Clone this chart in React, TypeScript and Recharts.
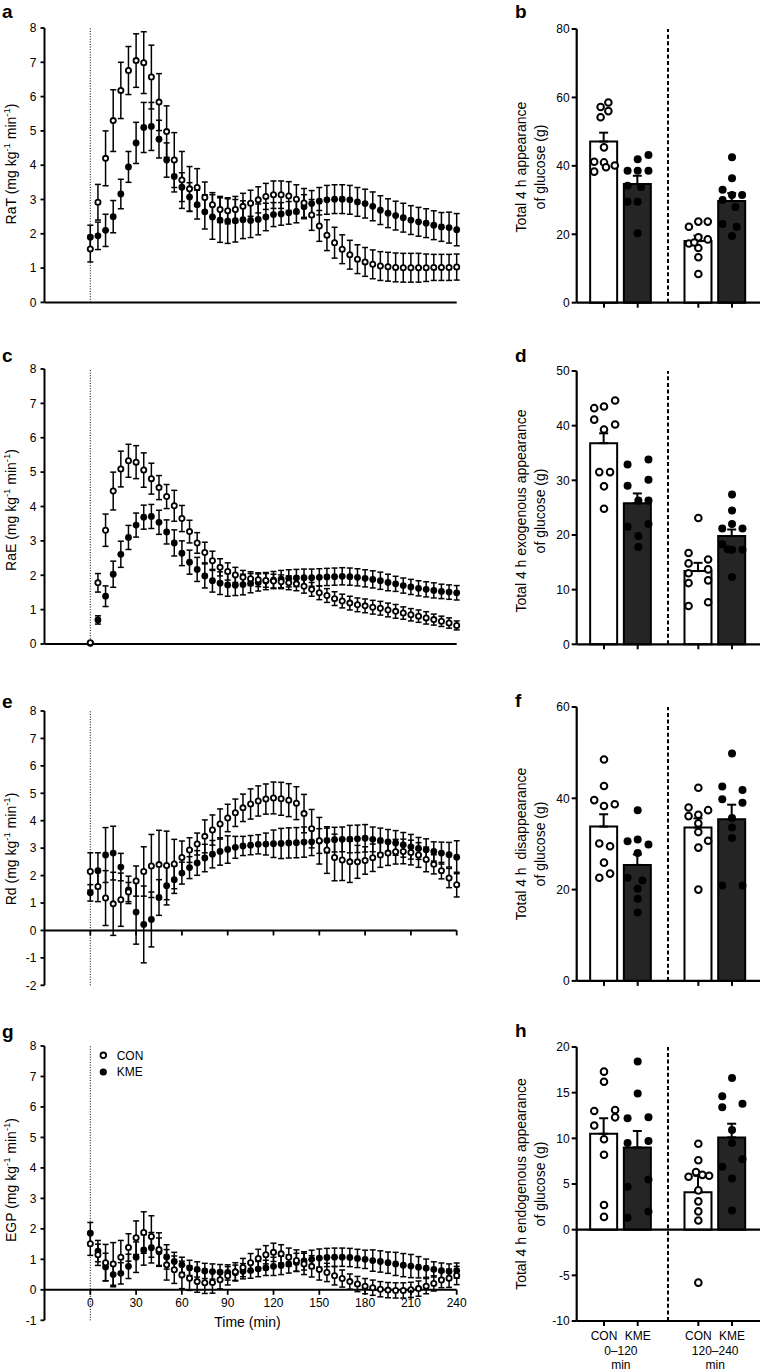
import React from 'react';
import {
  ScatterChart,
  ComposedChart,
  Scatter,
  Bar,
  Cell,
  XAxis,
  YAxis,
  ErrorBar,
  ReferenceLine,
  Legend,
} from 'recharts';

const FONT = '"Liberation Sans", Arial, Helvetica, sans-serif';

// ---------- time-course data (mean, SEM) ----------
const TIME = [0, 5, 10, 15, 20, 25, 30, 35, 40, 45, 50, 55, 60, 65, 70, 75, 80, 85, 90, 95, 100, 105, 110, 115, 120, 125, 130, 135, 140, 145, 150, 155, 160, 165, 170, 175, 180, 185, 190, 195, 200, 205, 210, 215, 220, 225, 230, 235, 240];
const TIME_TICKS = [0, 30, 60, 90, 120, 150, 180, 210, 240];

const RAT_CON = [1.56, 2.92, 4.2, 5.3, 6.18, 6.76, 7.05, 6.99, 6.57, 5.84, 4.98, 4.15, 3.57, 3.31, 3.35, 3.06, 2.85, 2.71, 2.67, 2.71, 2.8, 2.89, 2.99, 3.09, 3.14, 3.14, 3.1, 3.01, 2.9, 2.55, 2.23, 1.96, 1.74, 1.55, 1.39, 1.26, 1.18, 1.11, 1.06, 1.04, 1.02, 1.01, 1.01, 1.01, 1.01, 1.02, 1.02, 1.02, 1.03];
const RAT_CON_SEM = [0.38, 0.52, 0.8, 0.9, 0.82, 0.7, 0.78, 0.9, 0.93, 0.83, 0.75, 0.8, 0.83, 0.65, 0.55, 0.45, 0.35, 0.38, 0.38, 0.38, 0.38, 0.38, 0.38, 0.38, 0.4, 0.4, 0.42, 0.42, 0.42, 0.45, 0.45, 0.45, 0.45, 0.42, 0.42, 0.42, 0.42, 0.42, 0.42, 0.42, 0.42, 0.42, 0.42, 0.42, 0.4, 0.38, 0.38, 0.38, 0.38];
const RAT_KME = [1.9, 1.94, 2.1, 2.5, 3.16, 3.95, 4.65, 5.1, 5.13, 4.76, 4.15, 3.67, 3.36, 3.07, 2.85, 2.64, 2.49, 2.4, 2.37, 2.38, 2.41, 2.39, 2.42, 2.49, 2.56, 2.58, 2.61, 2.65, 2.79, 2.88, 2.95, 2.99, 3.01, 3.01, 2.99, 2.93, 2.88, 2.8, 2.69, 2.6, 2.53, 2.47, 2.4, 2.35, 2.31, 2.25, 2.2, 2.18, 2.12];
const RAT_KME_SEM = [0.35, 0.4, 0.47, 0.47, 0.43, 0.45, 0.6, 0.73, 0.7, 0.55, 0.5, 0.45, 0.42, 0.42, 0.42, 0.5, 0.65, 0.65, 0.65, 0.62, 0.55, 0.5, 0.45, 0.4, 0.35, 0.33, 0.33, 0.33, 0.35, 0.38, 0.4, 0.42, 0.42, 0.42, 0.42, 0.42, 0.42, 0.42, 0.42, 0.42, 0.42, 0.42, 0.42, 0.42, 0.42, 0.42, 0.42, 0.45, 0.47];

const RAE_CON = [0.04, 1.78, 3.31, 4.45, 5.09, 5.33, 5.29, 5.06, 4.81, 4.55, 4.29, 4.02, 3.65, 3.27, 2.94, 2.66, 2.42, 2.23, 2.11, 2.01, 1.94, 1.9, 1.87, 1.85, 1.83, 1.81, 1.78, 1.75, 1.68, 1.59, 1.49, 1.41, 1.32, 1.25, 1.19, 1.14, 1.11, 1.07, 1.04, 0.99, 0.95, 0.9, 0.85, 0.81, 0.76, 0.71, 0.66, 0.61, 0.54];
const RAE_CON_SEM = [0.02, 0.27, 0.47, 0.55, 0.52, 0.48, 0.48, 0.5, 0.45, 0.35, 0.35, 0.45, 0.38, 0.33, 0.3, 0.3, 0.28, 0.25, 0.25, 0.22, 0.2, 0.2, 0.2, 0.2, 0.2, 0.2, 0.2, 0.2, 0.2, 0.2, 0.2, 0.2, 0.2, 0.2, 0.2, 0.2, 0.2, 0.2, 0.2, 0.2, 0.2, 0.18, 0.18, 0.18, 0.18, 0.16, 0.15, 0.15, 0.13];
const RAE_KME = [0.02, 0.7, 1.39, 2.03, 2.61, 3.1, 3.46, 3.69, 3.71, 3.54, 3.26, 2.94, 2.64, 2.38, 2.17, 1.98, 1.84, 1.77, 1.72, 1.71, 1.73, 1.77, 1.79, 1.83, 1.86, 1.89, 1.91, 1.92, 1.93, 1.93, 1.94, 1.95, 1.96, 1.97, 1.96, 1.94, 1.91, 1.88, 1.84, 1.79, 1.75, 1.7, 1.66, 1.62, 1.59, 1.56, 1.53, 1.51, 1.49];
const RAE_KME_SEM = [0.02, 0.12, 0.3, 0.38, 0.38, 0.35, 0.35, 0.35, 0.35, 0.35, 0.35, 0.38, 0.36, 0.35, 0.35, 0.35, 0.33, 0.33, 0.33, 0.3, 0.3, 0.28, 0.25, 0.25, 0.25, 0.25, 0.25, 0.25, 0.25, 0.25, 0.25, 0.25, 0.25, 0.25, 0.25, 0.25, 0.25, 0.25, 0.25, 0.24, 0.22, 0.22, 0.22, 0.22, 0.22, 0.22, 0.21, 0.21, 0.21];

const RD_CON = [2.15, 1.6, 1.18, 0.97, 1.12, 1.4, 1.8, 2.15, 2.35, 2.4, 2.37, 2.42, 2.66, 2.93, 3.15, 3.43, 3.66, 3.88, 4.1, 4.29, 4.47, 4.61, 4.72, 4.79, 4.83, 4.8, 4.75, 4.64, 4.26, 3.71, 3.27, 2.93, 2.66, 2.57, 2.5, 2.5, 2.55, 2.65, 2.75, 2.82, 2.87, 2.88, 2.84, 2.75, 2.59, 2.41, 2.18, 1.91, 1.67];
const RD_CON_SEM = [0.68, 0.55, 1.0, 1.15, 0.97, 0.35, 0.55, 0.9, 1.15, 1.25, 1.25, 0.9, 0.6, 0.45, 0.4, 0.6, 0.55, 0.55, 0.5, 0.5, 0.5, 0.55, 0.55, 0.55, 0.58, 0.6, 0.6, 0.6, 0.7, 0.7, 0.85, 0.85, 0.85, 0.75, 0.75, 0.6, 0.5, 0.5, 0.45, 0.45, 0.45, 0.45, 0.45, 0.45, 0.45, 0.35, 0.3, 0.35, 0.45];
const RD_KME = [1.37, 2.18, 2.75, 2.82, 2.31, 1.48, 0.67, 0.22, 0.4, 1.2, 1.63, 1.85, 2.09, 2.29, 2.46, 2.64, 2.78, 2.88, 2.95, 3.03, 3.08, 3.11, 3.14, 3.15, 3.16, 3.17, 3.19, 3.2, 3.22, 3.23, 3.26, 3.28, 3.31, 3.32, 3.33, 3.34, 3.36, 3.32, 3.28, 3.23, 3.19, 3.12, 3.05, 2.99, 2.94, 2.88, 2.82, 2.76, 2.67];
const RD_KME_SEM = [0.3, 0.65, 1.0, 0.98, 0.5, 0.5, 1.17, 1.4, 1.0, 0.65, 0.7, 0.5, 0.4, 0.4, 0.45, 0.5, 0.5, 0.5, 0.5, 0.4, 0.35, 0.35, 0.35, 0.4, 0.5, 0.55, 0.55, 0.55, 0.55, 0.5, 0.45, 0.45, 0.45, 0.45, 0.5, 0.5, 0.5, 0.45, 0.45, 0.45, 0.45, 0.45, 0.45, 0.4, 0.4, 0.35, 0.4, 0.45, 0.6];

const EGP_CON = [1.51, 1.15, 0.89, 0.85, 1.07, 1.39, 1.71, 1.88, 1.75, 1.32, 0.82, 0.66, 0.49, 0.38, 0.27, 0.23, 0.24, 0.33, 0.46, 0.59, 0.73, 0.89, 1.03, 1.15, 1.23, 1.18, 1.07, 0.96, 0.85, 0.77, 0.67, 0.57, 0.46, 0.37, 0.27, 0.19, 0.12, 0.07, 0.02, -0.01, -0.02, -0.02, 0.0, 0.04, 0.12, 0.21, 0.32, 0.38, 0.47];
const EGP_CON_SEM = [0.38, 0.35, 0.6, 0.7, 0.55, 0.45, 0.55, 0.68, 0.68, 0.55, 0.5, 0.45, 0.45, 0.4, 0.35, 0.35, 0.35, 0.3, 0.3, 0.3, 0.3, 0.3, 0.3, 0.3, 0.3, 0.3, 0.3, 0.35, 0.35, 0.35, 0.35, 0.3, 0.3, 0.28, 0.25, 0.25, 0.25, 0.25, 0.25, 0.25, 0.25, 0.25, 0.25, 0.25, 0.25, 0.25, 0.25, 0.3, 0.3];
const EGP_KME = [1.86, 1.27, 0.75, 0.5, 0.54, 0.77, 1.07, 1.31, 1.38, 1.25, 1.08, 0.93, 0.82, 0.72, 0.67, 0.62, 0.6, 0.58, 0.57, 0.56, 0.61, 0.63, 0.68, 0.72, 0.77, 0.8, 0.85, 0.9, 0.95, 1.0, 1.04, 1.06, 1.07, 1.07, 1.06, 1.03, 1.0, 0.96, 0.93, 0.89, 0.85, 0.81, 0.78, 0.74, 0.71, 0.67, 0.63, 0.6, 0.63];
const EGP_KME_SEM = [0.35, 0.35, 0.45, 0.4, 0.35, 0.4, 0.5, 0.5, 0.5, 0.45, 0.4, 0.3, 0.25, 0.25, 0.25, 0.25, 0.25, 0.25, 0.25, 0.25, 0.25, 0.25, 0.25, 0.25, 0.3, 0.3, 0.3, 0.3, 0.3, 0.3, 0.3, 0.3, 0.3, 0.3, 0.3, 0.3, 0.3, 0.35, 0.35, 0.35, 0.38, 0.38, 0.38, 0.35, 0.3, 0.25, 0.25, 0.25, 0.25];

const Y_TICKS_0_8 = [0, 1, 2, 3, 4, 5, 6, 7, 8];
const Y_TICKS_M2_8 = [-2, -1, 0, 1, 2, 3, 4, 5, 6, 7, 8];
const Y_TICKS_M1_8 = [-1, 0, 1, 2, 3, 4, 5, 6, 7, 8];

// ---------- bar panels ----------
const BAR_SLOTS = [1, 2, 3.8, 4.8];
const BAR_DOMAIN: [number, number] = [0.19, 5.63];
const SPLIT_AT = 2.9;
const CAT_LABELS = ['CON', 'KME', 'CON', 'KME'];
const GROUP_SLOTS = [1.5, 4.3];
const GROUP_LABELS = ['0\u2013120', '120\u2013240'];
const GROUP_UNIT = 'min';

// b: total appearance
const APP_MEAN = [47.1, 34.7, 18.0, 29.7];
const APP_SEM = [2.6, 2.4, 1.6, 2.3];
const APP_CON_1 = [[0.13, 58.5], [-0.1, 57.2], [0.13, 56.0], [-0.1, 54.2], [0.0, 45.4], [-0.29, 41.2], [0.0, 41.0], [0.32, 40.1], [-0.29, 38.3], [0.06, 39.6]];
const APP_KME_1 = [[0.32, 43.2], [0.0, 41.9], [-0.3, 38.6], [0.0, 38.6], [0.32, 38.6], [-0.3, 34.2], [0.1, 33.8], [-0.3, 29.5], [0.0, 29.5], [0.0, 20.3]];
const APP_CON_2 = [[0.0, 23.7], [0.28, 23.7], [-0.28, 22.2], [0.0, 19.1], [0.28, 18.5], [-0.28, 17.3], [-0.12, 17.6], [0.0, 16.0], [0.0, 13.3], [0.0, 8.4]];
const APP_KME_2 = [[0.0, 42.5], [0.0, 36.4], [-0.28, 33.0], [0.3, 31.5], [0.0, 31.5], [-0.28, 30.0], [0.1, 28.0], [-0.28, 23.0], [0.14, 22.2], [0.0, 19.5]];
const APP_TICKS = [0, 20, 40, 60, 80];

// d: exogenous appearance
const EXO_MEAN = [36.8, 25.8, 13.4, 19.8];
const EXO_SEM = [1.8, 1.8, 1.5, 1.2];
const EXO_CON_1 = [[-0.29, 43.2], [0.0, 43.5], [0.33, 44.6], [-0.29, 41.1], [0.0, 39.3], [0.33, 40.2], [-0.14, 31.5], [0.18, 31.5], [0.0, 28.9], [0.0, 24.8]];
const EXO_KME_1 = [[-0.3, 32.9], [0.32, 33.8], [0.32, 30.1], [-0.3, 29.0], [0.02, 26.3], [0.32, 26.3], [-0.3, 21.5], [0.32, 22.0], [0.02, 19.8], [0.02, 17.8]];
const EXO_CON_2 = [[0.0, 23.1], [-0.29, 16.7], [-0.29, 14.8], [0.29, 15.5], [-0.29, 13.0], [0.29, 13.7], [-0.29, 11.2], [0.29, 11.7], [-0.29, 7.0], [0.29, 7.7]];
const EXO_KME_2 = [[0.0, 27.4], [0.0, 24.5], [-0.29, 21.2], [0.0, 22.0], [0.31, 21.2], [-0.29, 18.3], [0.0, 17.3], [0.31, 17.3], [-0.13, 17.4], [0.0, 12.3]];
const EXO_TICKS = [0, 10, 20, 30, 40, 50];

// f: disappearance
const DIS_MEAN = [33.8, 25.4, 33.6, 35.4];
const DIS_SEM = [2.7, 2.3, 2.0, 3.2];
const DIS_CON_1 = [[0.0, 48.5], [0.0, 42.7], [-0.29, 39.6], [0.0, 38.3], [0.32, 38.7], [-0.14, 30.1], [0.18, 29.5], [0.0, 25.9], [-0.14, 22.6], [0.18, 23.5]];
const DIS_KME_1 = [[0.0, 37.4], [-0.3, 30.6], [0.0, 31.0], [0.32, 29.9], [0.0, 28.0], [-0.3, 22.6], [0.14, 22.0], [0.0, 20.2], [0.0, 18.0], [0.0, 15.0]];
const DIS_CON_2 = [[0.0, 42.3], [-0.29, 38.0], [0.0, 36.4], [0.29, 37.4], [-0.29, 36.1], [0.0, 34.5], [0.0, 32.6], [0.29, 30.7], [0.0, 29.2], [0.0, 20.0]];
const DIS_KME_2 = [[0.0, 49.8], [-0.29, 42.6], [0.31, 41.8], [-0.29, 39.8], [0.31, 39.0], [0.0, 35.7], [0.0, 33.6], [0.0, 31.3], [-0.29, 20.9], [0.31, 20.9]];
const DIS_TICKS = [0, 20, 40, 60];

// h: endogenous appearance
const END_MEAN = [10.5, 9.0, 4.1, 10.1];
const END_SEM = [1.7, 1.8, 1.8, 1.5];
const END_CON_1 = [[0.0, 17.3], [0.0, 16.2], [-0.29, 13.0], [0.33, 13.1], [-0.29, 11.4], [0.33, 12.3], [0.0, 9.9], [0.0, 8.2], [0.0, 2.7], [0.0, 1.4]];
const END_KME_1 = [[0.0, 18.4], [0.0, 14.9], [-0.3, 12.2], [0.32, 12.3], [-0.3, 9.5], [0.32, 9.7], [-0.3, 4.7], [0.32, 5.5], [-0.3, 1.3], [0.32, 2.0]];
const END_CON_2 = [[0.0, 9.4], [0.0, 7.6], [-0.29, 5.8], [-0.07, 6.3], [0.12, 6.0], [0.32, 5.9], [0.0, 4.3], [0.0, 3.1], [0.0, 2.0], [0.0, 1.0], [0.0, -5.8]];
const END_KME_2 = [[0.0, 16.6], [-0.29, 14.6], [-0.29, 13.4], [0.31, 13.8], [0.0, 10.9], [0.0, 9.5], [-0.29, 6.9], [0.31, 7.7], [0.0, 5.6], [0.0, 2.1]];
const END_TICKS = [-10, -5, 0, 5, 10, 15, 20];

// ---------- shapes ----------
const openDot = (r: number, sw: number) => (p: any) =>
  <circle cx={p.cx} cy={p.cy} r={r} fill="#fff" stroke="#000" strokeWidth={sw} />;
const filledDot = (r: number) => (p: any) =>
  <circle cx={p.cx} cy={p.cy} r={r} fill="#000" stroke="none" />;

// ---------- left time-course panel ----------
const L_PLOT_LEFT = 44.5;
const L_PLOT_RIGHT = 456.7;
const L_WIDTH = 470;
const M_TOP = 10;

const ZeroTick = (props: any) => {
  const { x, y, payload, shift, showLabel } = props;
  const y0 = y - shift;
  return (
    <g>
      <line x1={x} x2={x} y1={y0} y2={y0 + 5} stroke="#000" strokeWidth={1.8} />
      {showLabel && (
        <text x={x} y={y0 + 17} textAnchor="middle" fontSize={12} fontFamily={FONT} fill="#000">
          {payload.value}
        </text>
      )}
    </g>
  );
};

const LegendBox = (props: any) => {
  const order = ['CON', 'KME'];
  const items = [...(props.payload || [])].sort(
    (a: any, b: any) => order.indexOf(a.value) - order.indexOf(b.value)
  );
  return (
    <svg width={70} height={40} style={{ display: 'block' }}>
      {items.map((it: any, i: number) => (
        <g key={it.value}>
          {it.value === 'CON' ? (
            <circle cx={10.3} cy={10.3 + i * 16.7} r={2.8} fill="#fff" stroke="#000" strokeWidth={1.8} />
          ) : (
            <circle cx={10.3} cy={10.3 + i * 16.7} r={3.6} fill="#000" />
          )}
          <text x={23.7} y={10.3 + i * 16.7} dy="0.36em" fontSize={12} fontFamily={FONT} fill="#000">
            {it.value}
          </text>
        </g>
      ))}
    </svg>
  );
};

function TimePanel(props: {
  top: number; bottom: number; domain: [number, number]; ticks: number[];
  con: number[]; conSem: number[]; kme: number[]; kmeSem: number[];
  zeroAxis?: boolean; showLabels?: boolean; legend?: boolean;
}) {
  const { top, bottom, domain, ticks, con, conSem, kme, kmeSem, zeroAxis, showLabels, legend } = props;
  const plotH = bottom - top;
  const xH = 30;
  const height = M_TOP + plotH + xH;
  const shift = (plotH * (0 - domain[0])) / (domain[1] - domain[0]);
  const conData = TIME.map((t, i) => ({ t, v: con[i], e: conSem[i] }));
  const kmeData = TIME.map((t, i) => ({ t, v: kme[i], e: kmeSem[i] }));
  return (
    <div style={{ position: 'absolute', left: 0, top: top - M_TOP }}>
      <ScatterChart
        width={L_WIDTH}
        height={height}
        margin={{ top: M_TOP, right: L_WIDTH - L_PLOT_RIGHT, bottom: 0, left: 0 }}
      >
        {zeroAxis ? (
          <XAxis
            type="number" dataKey="t" domain={[-30, 240]} ticks={TIME_TICKS} interval={0}
            height={xH} axisLine={false} tickLine={false} tickSize={0} tickMargin={0}
            tick={(p: any) => <ZeroTick {...p} shift={shift} showLabel={showLabels} />}
          />
        ) : (
          <XAxis
            type="number" dataKey="t" domain={[-30, 240]} ticks={TIME_TICKS} interval={0}
            height={xH} axisLine={{ stroke: '#000', strokeWidth: 2 }}
            tickLine={{ stroke: '#000', strokeWidth: 1.8 }} tickSize={5} tick={false}
          />
        )}
        <YAxis
          type="number" dataKey="v" domain={domain} ticks={ticks} interval={0} width={L_PLOT_LEFT}
          axisLine={{ stroke: '#000', strokeWidth: 2 }} tickLine={{ stroke: '#000', strokeWidth: 1.8 }}
          tickSize={4} tickMargin={4}
          tick={{ fontSize: 12, fill: '#000', fontFamily: FONT }}
        />
        <ReferenceLine x={0} stroke="#000" strokeWidth={1} strokeDasharray="1 1.6" />
        {zeroAxis && <ReferenceLine y={0} stroke="#000" strokeWidth={2} />}
        {legend && (
          <Legend
            layout="vertical" align="center" verticalAlign="middle"
            wrapperStyle={{ left: 93, top: 9, width: 70, height: 40 }}
            content={(p: any) => <LegendBox {...p} />}
          />
        )}
        <Scatter name="KME" data={kmeData} shape={filledDot(3.4)} isAnimationActive={false}>
          <ErrorBar dataKey="e" direction="y" width={3} stroke="#000" strokeWidth={1.5} />
        </Scatter>
        <Scatter name="CON" data={conData} shape={openDot(2.6, 1.8)} isAnimationActive={false}>
          <ErrorBar dataKey="e" direction="y" width={3} stroke="#000" strokeWidth={1.5} />
        </Scatter>
      </ScatterChart>
    </div>
  );
}

// ---------- right bar panel ----------
const B_LEFT = 480;
const B_WIDTH = 281;
const B_YW = 96.7;
const B_RIGHT_M = 1;
const B_PX_PER_UNIT = (B_WIDTH - B_RIGHT_M - B_YW) / (BAR_DOMAIN[1] - BAR_DOMAIN[0]);

const BarTick = (props: any) => {
  const { x, y, payload, showLabels } = props;
  const ci = BAR_SLOTS.indexOf(payload.value);
  const gi = ci === 0 ? 0 : ci === 2 ? 1 : -1;
  const gx = gi >= 0 ? x + (GROUP_SLOTS[gi] - BAR_SLOTS[ci]) * B_PX_PER_UNIT : 0;
  return (
    <g>
      <line x1={x} x2={x} y1={y} y2={y + 5} stroke="#000" strokeWidth={2} />
      {showLabels && (
        <text x={x} y={y + 18.8} textAnchor="middle" fontSize={12} fontFamily={FONT} fill="#000">
          {CAT_LABELS[ci]}
        </text>
      )}
      {showLabels && gi >= 0 && (
        <>
          <text x={gx} y={y + 34} textAnchor="middle" fontSize={12} fontFamily={FONT} fill="#000">
            {GROUP_LABELS[gi]}
          </text>
          <text x={gx} y={y + 48.3} textAnchor="middle" fontSize={12} fontFamily={FONT} fill="#000">
            {GROUP_UNIT}
          </text>
        </>
      )}
    </g>
  );
};

function BarPanel(props: {
  top: number; bottom: number; domain: [number, number]; ticks: number[];
  mean: number[]; sem: number[];
  con1: number[][]; kme1: number[][]; con2: number[][]; kme2: number[][];
  showLabels?: boolean; zeroLine?: boolean;
}) {
  const { top, bottom, domain, ticks, mean, sem, con1, kme1, con2, kme2, showLabels, zeroLine } = props;
  const plotH = bottom - top;
  const xH = showLabels ? 51 : 20;
  const height = M_TOP + plotH + xH;
  const barData = BAR_SLOTS.map((x, i) => ({ x, v: mean[i], e: [0, sem[i]] }));
  const conData = [
    ...con1.map(([dx, v]) => ({ x: BAR_SLOTS[0] + dx, v })),
    ...con2.map(([dx, v]) => ({ x: BAR_SLOTS[2] + dx, v })),
  ];
  const kmeData = [
    ...kme1.map(([dx, v]) => ({ x: BAR_SLOTS[1] + dx, v })),
    ...kme2.map(([dx, v]) => ({ x: BAR_SLOTS[3] + dx, v })),
  ];
  return (
    <div style={{ position: 'absolute', left: B_LEFT, top: top - M_TOP, width: B_WIDTH, height }}>
      <div style={{ position: 'absolute', left: 0, top: 0 }}>
        <ComposedChart
          width={B_WIDTH}
          height={height}
          data={barData}
          margin={{ top: M_TOP, right: B_RIGHT_M, bottom: 0, left: 0 }}
        >
          <XAxis
            type="number" dataKey="x" domain={BAR_DOMAIN} ticks={BAR_SLOTS} interval={0}
            height={xH} axisLine={{ stroke: '#000', strokeWidth: 2.2 }} tickLine={false}
            tickSize={0} tickMargin={0}
            tick={(p: any) => <BarTick {...p} showLabels={showLabels} />}
          />
          <YAxis
            type="number" dataKey="v" domain={domain} ticks={ticks} interval={0} width={B_YW}
            axisLine={{ stroke: '#000', strokeWidth: 2.2 }} tickLine={{ stroke: '#000', strokeWidth: 2 }}
            tickSize={5} tickMargin={2}
            tick={{ fontSize: 12, fill: '#000', fontFamily: FONT }}
          />
          {zeroLine && <ReferenceLine y={0} stroke="#000" strokeWidth={2.2} />}
          <ReferenceLine x={SPLIT_AT} stroke="#000" strokeWidth={2} strokeDasharray="4 2.6" />
          <Bar dataKey="v" barSize={27} stroke="#000" strokeWidth={2} isAnimationActive={false}>
            {barData.map((d, i) => (
              <Cell key={i} fill={i % 2 === 0 ? '#ffffff' : '#252525'} />
            ))}
            <ErrorBar dataKey="e" direction="y" width={4.5} stroke="#000" strokeWidth={2} />
          </Bar>
        </ComposedChart>
      </div>
      <div style={{ position: 'absolute', left: 0, top: 0 }}>
        <ScatterChart
          width={B_WIDTH}
          height={height}
          margin={{ top: M_TOP, right: B_RIGHT_M, bottom: xH, left: B_YW }}
        >
          <XAxis type="number" dataKey="x" domain={BAR_DOMAIN} hide />
          <YAxis type="number" dataKey="v" domain={domain} hide />
          <Scatter data={conData} shape={openDot(3.3, 2)} isAnimationActive={false} />
          <Scatter data={kmeData} shape={filledDot(4)} isAnimationActive={false} />
        </ScatterChart>
      </div>
    </div>
  );
}

// ---------- overlay text ----------
const LeftTitle = ({ cx, cy, name }: { cx: number; cy: number; name: string }) => (
  <text
    transform={`translate(${cx},${cy}) rotate(-90)`}
    textAnchor="middle" dominantBaseline="central"
    fontSize={14} fontFamily={FONT} fill="#000"
  >
    <tspan>{name} (mg kg</tspan>
    <tspan fontSize={9.5} dy={-5}>-1</tspan>
    <tspan dy={5}> min</tspan>
    <tspan fontSize={9.5} dy={-5}>-1</tspan>
    <tspan dy={5}>)</tspan>
  </text>
);

const BarTitle = ({ cy, line1 }: { cy: number; line1: string }) => (
  <g fontSize={14} fontFamily={FONT} fill="#000">
    <text transform={`translate(521,${cy}) rotate(-90)`} textAnchor="middle" dominantBaseline="central"
      style={{ whiteSpace: 'pre' }}>
      {line1}
    </text>
    <text transform={`translate(539.5,${cy}) rotate(-90)`} textAnchor="middle" dominantBaseline="central">
      of glucose (g)
    </text>
  </g>
);

const Letter = ({ x, y, c }: { x: number; y: number; c: string }) => (
  <text x={x} y={y} fontSize={19} fontWeight="bold" fontFamily={FONT} fill="#000">{c}</text>
);

export default function App() {
  return (
    <div
      style={{
        position: 'absolute', left: 0, top: 0, width: 761, height: 1372,
        overflow: 'hidden', background: '#fff',
      }}
    >
      <TimePanel top={28.3} bottom={302.7} domain={[0, 8]} ticks={Y_TICKS_0_8}
        con={RAT_CON} conSem={RAT_CON_SEM} kme={RAT_KME} kmeSem={RAT_KME_SEM} />
      <TimePanel top={369} bottom={644} domain={[0, 8]} ticks={Y_TICKS_0_8}
        con={RAE_CON} conSem={RAE_CON_SEM} kme={RAE_KME} kmeSem={RAE_KME_SEM} />
      <TimePanel top={710.7} bottom={985} domain={[-2, 8]} ticks={Y_TICKS_M2_8}
        con={RD_CON} conSem={RD_CON_SEM} kme={RD_KME} kmeSem={RD_KME_SEM} zeroAxis />
      <TimePanel top={1045.7} bottom={1320} domain={[-1, 8]} ticks={Y_TICKS_M1_8}
        con={EGP_CON} conSem={EGP_CON_SEM} kme={EGP_KME} kmeSem={EGP_KME_SEM} zeroAxis showLabels legend />

      <BarPanel top={29} bottom={302.7} domain={[0, 80]} ticks={APP_TICKS} mean={APP_MEAN} sem={APP_SEM}
        con1={APP_CON_1} kme1={APP_KME_1} con2={APP_CON_2} kme2={APP_KME_2} />
      <BarPanel top={370.7} bottom={644} domain={[0, 50]} ticks={EXO_TICKS} mean={EXO_MEAN} sem={EXO_SEM}
        con1={EXO_CON_1} kme1={EXO_KME_1} con2={EXO_CON_2} kme2={EXO_KME_2} />
      <BarPanel top={706.7} bottom={980.6} domain={[0, 60]} ticks={DIS_TICKS} mean={DIS_MEAN} sem={DIS_SEM}
        con1={DIS_CON_1} kme1={DIS_KME_1} con2={DIS_CON_2} kme2={DIS_KME_2} />
      <BarPanel top={1046.7} bottom={1320.7} domain={[-10, 20]} ticks={END_TICKS} mean={END_MEAN} sem={END_SEM}
        con1={END_CON_1} kme1={END_KME_1} con2={END_CON_2} kme2={END_KME_2} showLabels zeroLine />

      <svg width={761} height={1372} style={{ position: 'absolute', left: 0, top: 0, pointerEvents: 'none' }}>
        <Letter x={2} y={18} c="a" />
        <Letter x={515} y={18} c="b" />
        <Letter x={2} y={362} c="c" />
        <Letter x={515} y={362} c="d" />
        <Letter x={2} y={708} c="e" />
        <Letter x={515} y={707} c="f" />
        <Letter x={2} y={1038} c="g" />
        <Letter x={515} y={1037} c="h" />

        <LeftTitle cx={11} cy={164} name="RaT" />
        <LeftTitle cx={11} cy={510} name="RaE" />
        <LeftTitle cx={11} cy={849} name="Rd" />
        <LeftTitle cx={11} cy={1180} name="EGP" />

        <BarTitle cy={167} line1="Total 4 h appearance" />
        <BarTitle cy={511} line1="Total 4 h exogenous appearance" />
        <BarTitle cy={844} line1={'Total 4 h  disappearance'} />
        <BarTitle cy={1184} line1="Total 4 h endogenous appearance" />

        <text x={247.5} y={1322} textAnchor="middle" dominantBaseline="central" fontSize={14}
          fontFamily={FONT} fill="#000">
          Time (min)
        </text>
      </svg>
    </div>
  );
}
